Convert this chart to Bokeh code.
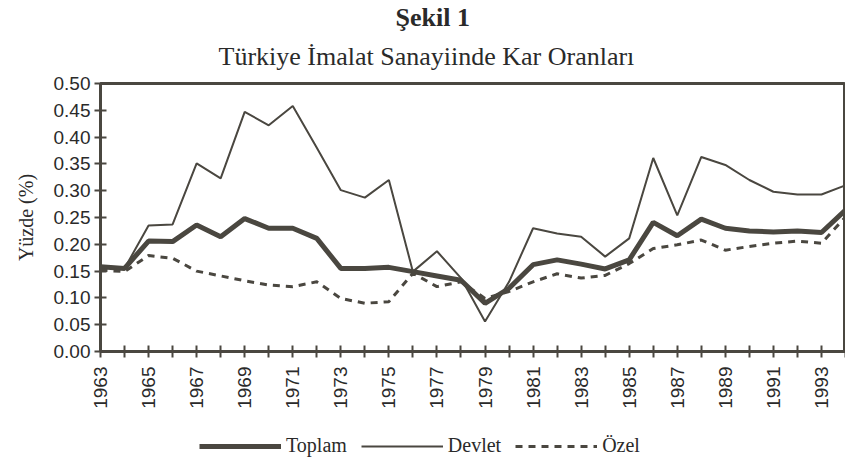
from bokeh.plotting import figure
from bokeh.layouts import column
from bokeh.models import Range1d, FixedTicker, Legend, LegendItem, Title, NumeralTickFormatter
from bokeh.embed import file_html
from bokeh.resources import INLINE
import math

years = list(range(1963, 1995))
toplam = [0.158, 0.155, 0.206, 0.205, 0.236, 0.214, 0.248, 0.230, 0.230, 0.211,
          0.155, 0.155, 0.157, 0.149, 0.141, 0.133, 0.090, 0.118, 0.162, 0.171,
          0.163, 0.154, 0.171, 0.241, 0.216, 0.247, 0.230, 0.225, 0.223, 0.225,
          0.222, 0.264]
devlet = [0.158, 0.155, 0.235, 0.237, 0.351, 0.323, 0.447, 0.422, 0.458, 0.380,
          0.301, 0.287, 0.320, 0.149, 0.187, 0.137, 0.056, 0.130, 0.230, 0.220,
          0.214, 0.177, 0.211, 0.361, 0.254, 0.363, 0.348, 0.320, 0.298, 0.293,
          0.293, 0.310]
ozel = [0.152, 0.149, 0.179, 0.174, 0.150, 0.141, 0.132, 0.124, 0.121, 0.130,
        0.099, 0.090, 0.093, 0.146, 0.121, 0.130, 0.099, 0.112, 0.130, 0.145,
        0.137, 0.142, 0.164, 0.192, 0.199, 0.208, 0.189, 0.196, 0.202, 0.206,
        0.202, 0.251]
y_ticks = [0.0, 0.05, 0.10, 0.15, 0.20, 0.25, 0.30, 0.35, 0.40, 0.45, 0.50]
x_labels = {y: (str(y) if (y - 1963) % 2 == 0 else "") for y in years}
series_names = ["Toplam", "Devlet", "Özel"]

INK = "#4a4740"
TXT = "#2a2a2a"
SERIF = "Liberation Serif"
SANS = "Liberation Sans"

p = figure(width=845, height=425, output_backend="svg", toolbar_location=None,
           x_range=Range1d(1963, 1994), y_range=Range1d(0, 0.5),
           min_border_left=100, min_border_right=0, min_border_top=83,
           min_border_bottom=74)
p.background_fill_color = "white"
p.border_fill_color = "white"
p.grid.visible = False
p.outline_line_color = INK
p.outline_line_width = 3

# titles
p.title.text = "Şekil 1"
p.title.text_font = SERIF
p.title.text_font_size = "26px"
p.title.text_font_style = "bold"
p.title.text_color = TXT
p.title.align = "left"
p.title.offset = 295
p.title.standoff = -10
p.add_layout(Title(text="Türkiye İmalat Sanayiinde Kar Oranları", text_font=SERIF,
                   text_font_size="26px", text_font_style="normal",
                   text_color=TXT, align="left", offset=118, standoff=26),
             "above")

# axes
for ax in (p.xaxis[0], p.yaxis[0]):
    ax.axis_line_color = INK
    ax.axis_line_width = 3
    ax.major_tick_line_color = INK
    ax.major_tick_line_width = 2
    ax.major_tick_in = 6
    ax.major_tick_out = 6
    ax.minor_tick_line_color = None
    ax.major_label_text_font = SANS
    ax.major_label_text_font_size = "19px"
    ax.major_label_text_color = TXT

p.yaxis.ticker = FixedTicker(ticks=y_ticks)
p.yaxis.formatter = NumeralTickFormatter(format="0.00")
p.yaxis.major_label_standoff = 4
p.yaxis.axis_label = "Yüzde (%)"
p.yaxis.axis_label_text_font = SERIF
p.yaxis.axis_label_text_font_style = "normal"
p.yaxis.axis_label_text_font_size = "20px"
p.yaxis.axis_label_text_color = TXT
p.yaxis.axis_label_standoff = 14

p.xaxis.ticker = FixedTicker(ticks=years)
p.xaxis.major_label_overrides = x_labels
p.xaxis.major_label_orientation = math.pi / 2
p.xaxis.major_label_standoff = 9

styles = [dict(line_width=5), dict(line_width=2), dict(line_width=3, line_dash="7 6")]
for vals, st in zip([toplam, devlet, ozel], styles):
    p.line(years, vals, line_color=INK, **st)

# legend row (separate strip below the chart)
q = figure(width=845, height=39, output_backend="svg", toolbar_location=None,
           x_range=Range1d(0, 1), y_range=Range1d(0, 1),
           x_axis_location=None, y_axis_location=None,
           min_border_left=0, min_border_right=0, min_border_top=0, min_border_bottom=0)
q.grid.visible = False
q.outline_line_color = None
q.background_fill_color = "white"
q.border_fill_color = "white"
items = []
for name, vals, st in zip(series_names, [toplam, devlet, ozel], styles):
    r = q.line(years, vals, line_color=INK, **st)
    items.append(LegendItem(label=name, renderers=[r]))
legend = Legend(items=items, orientation="horizontal", location=(99, 7),
                glyph_width=82, glyph_height=20, label_standoff=5, spacing=14,
                label_text_font=SERIF, label_text_font_size="20px",
                label_text_color=TXT, border_line_color=None,
                background_fill_alpha=0, margin=0, padding=4)
q.add_layout(legend, "center")

open("out.html", "w").write(file_html(column(p, q, spacing=0), INLINE))
